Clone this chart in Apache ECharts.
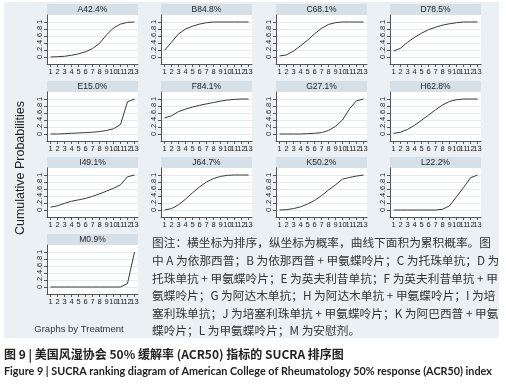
<!DOCTYPE html>
<html>
<head>
<meta charset="utf-8">
<script src="https://cdn.jsdelivr.net/npm/echarts@6/dist/echarts.min.js"></script>
<style>
  html, body { margin: 0; padding: 0; background: #fff; }
  #chart { width: 506px; height: 388px; }
</style>
</head>
<body>
<div id="chart"></div>
<script>
// 排序 1..13
const ranks = ["1", "2", "3", "4", "5", "6", "7", "8", "9", "10", "11", "12", "13"];
const treatments = ["A", "B", "C", "D", "E", "F", "G", "H", "I", "J", "K", "L", "M"];
const sucra = ["42.4%", "84.8%", "68.1%", "78.5%", "15.0%", "84.1%", "27.1%", "62.8%", "49.1%", "64.7%", "50.2%", "22.2%", "0.9%"];

// 累积概率
const cumA = [0, 0.01, 0.02, 0.05, 0.09, 0.15, 0.24, 0.39, 0.63, 0.83, 0.94, 0.99, 1];
const cumB = [0.19, 0.42, 0.66, 0.8, 0.88, 0.94, 0.98, 1, 1, 1, 1, 1, 1];
const cumC = [0.03, 0.06, 0.17, 0.32, 0.48, 0.66, 0.82, 0.93, 0.98, 1, 1, 1, 1];
const cumD = [0.17, 0.25, 0.42, 0.56, 0.68, 0.78, 0.85, 0.91, 0.95, 0.98, 1, 1, 1];
const cumE = [0, 0, 0.01, 0.02, 0.03, 0.04, 0.05, 0.07, 0.1, 0.15, 0.27, 0.92, 1];
const cumF = [0.46, 0.52, 0.64, 0.71, 0.77, 0.82, 0.86, 0.9, 0.94, 0.97, 0.99, 1, 1];
const cumG = [0, 0, 0, 0, 0.01, 0.02, 0.04, 0.1, 0.22, 0.4, 0.72, 0.95, 1];
const cumH = [0.02, 0.05, 0.13, 0.25, 0.39, 0.54, 0.69, 0.83, 0.93, 0.98, 1, 1, 1];
const cumI = [0.08, 0.12, 0.19, 0.25, 0.29, 0.33, 0.39, 0.46, 0.54, 0.62, 0.72, 0.95, 1];
const cumJ = [0, 0.04, 0.15, 0.31, 0.49, 0.66, 0.8, 0.9, 0.96, 0.99, 1, 1, 1];
const cumK = [0, 0.01, 0.04, 0.09, 0.17, 0.27, 0.41, 0.57, 0.72, 0.88, 0.93, 0.97, 1];
const cumL = [0, 0, 0, 0, 0, 0, 0, 0.02, 0.12, 0.38, 0.64, 0.92, 1];
const cumM = [0, 0, 0, 0, 0, 0, 0, 0, 0, 0, 0, 0.1, 1];
const curves = [cumA, cumB, cumC, cumD, cumE, cumF, cumG, cumH, cumI, cumJ, cumK, cumL, cumM];

const yTicks = [0, 0.2, 0.4, 0.6, 0.8, 1];

const noteLines = [
  "图注：横坐标为排序，纵坐标为概率，曲线下面积为累积概率。图",
  "中 A 为依那西普；B 为依那西普 + 甲氨蝶呤片；C 为托珠单抗；D 为",
  "托珠单抗 + 甲氨蝶呤片；E 为英夫利昔单抗；F 为英夫利昔单抗 + 甲",
  "氨蝶呤片；G 为阿达木单抗；H 为阿达木单抗 + 甲氨蝶呤片；I 为培",
  "塞利珠单抗；J 为培塞利珠单抗 + 甲氨蝶呤片；K 为阿巴西普 + 甲氨",
  "蝶呤片；L 为甲氨蝶呤片；M 为安慰剂。"
];
const captionCn = "图 9 | 美国风湿协会 50% 缓解率 (ACR50) 指标的 SUCRA 排序图";
const captionEn = "Figure 9 | SUCRA ranking diagram of American College of Rheumatology 50% response (ACR50) index";

// 面板布局
const colLeft = [47, 161, 276, 390];
const rowTop = [4, 81, 157, 234];
const panelW = 91, headH = 11, plotH = 49;
const axisFont = "Liberation Sans";

const chart = echarts.init(document.getElementById("chart"));

const grids = [], xAxes = [], yAxes = [], series = [], graphics = [];

// 外框背景
graphics.push({
  type: "rect", z: -10, silent: true,
  shape: { x: 4, y: 2, width: 495, height: 336 },
  style: { fill: "#eaf0f4" }
});

treatments.forEach((t, i) => {
  const col = i % 4, row = Math.floor(i / 4);
  const left = colLeft[col], top = rowTop[row];

  grids.push({
    left: left, top: top + headH, width: panelW, height: plotH,
    show: true, backgroundColor: "#fff", borderWidth: 0
  });

  xAxes.push({
    type: "category", gridIndex: i, data: ranks, boundaryGap: true,
    axisLine: { show: true, onZero: false, lineStyle: { color: "#555", width: 1 } },
    axisTick: { show: true, inside: false, length: 3, alignWithLabel: true, interval: 0, lineStyle: { color: "#555" } },
    axisLabel: { interval: 0, fontSize: 7.5, margin: 4, color: "#222", fontFamily: axisFont },
    splitLine: { show: false }
  });

  yAxes.push({
    type: "value", gridIndex: i, min: -0.2, max: 1.2,
    axisLine: { show: true, onZero: false, lineStyle: { color: "#555", width: 1 } },
    axisTick: { show: true, inside: false, length: 3, customValues: yTicks, lineStyle: { color: "#555" } },
    axisLabel: {
      customValues: yTicks, rotate: 90, fontSize: 7.5, margin: 3, color: "#222", fontFamily: axisFont,
      formatter: (v) => (v === 0 ? "0" : v === 1 ? "1" : "." + Math.round(v * 10))
    },
    splitLine: { show: true, lineStyle: { color: "#e4eaee", width: 1 } }
  });

  series.push({
    type: "line", xAxisIndex: i, yAxisIndex: i,
    data: curves[i],
    showSymbol: false, silent: true,
    lineStyle: { color: "#3a3a3a", width: 1 }
  });

  // 小标题条
  graphics.push({
    type: "rect", silent: true,
    shape: { x: left, y: top, width: panelW, height: headH },
    style: { fill: "#d5e0e8" }
  });
  graphics.push({
    type: "text", silent: true,
    x: left + panelW / 2, y: top + headH / 2 + 0.5,
    style: {
      text: t + sucra[i], align: "center", verticalAlign: "middle",
      fontSize: 8.5, fontFamily: axisFont, fill: "#222"
    }
  });
});

// 纵轴标题
graphics.push({
  type: "text", silent: true, x: 21, y: 168, rotation: Math.PI / 2,
  style: {
    text: "Cumulative Probabilities", align: "center", verticalAlign: "middle",
    fontSize: 12.5, fontFamily: axisFont, fill: "#222"
  }
});
graphics.push({
  type: "text", silent: true, x: 79, y: 329,
  style: {
    text: "Graphs by Treatment", align: "center", verticalAlign: "middle",
    fontSize: 9.5, fontFamily: axisFont, fill: "#333"
  }
});

// 图注
noteLines.forEach((line, k) => {
  graphics.push({
    type: "text", silent: true, x: 152, y: 243 + k * 17.6,
    style: {
      text: line, align: "left", verticalAlign: "middle",
      fontSize: 11.7, fontFamily: "Noto Sans CJK SC", fill: "#333"
    }
  });
});

graphics.push({
  type: "text", silent: true, x: 4, y: 354,
  style: {
    text: captionCn, align: "left", verticalAlign: "middle",
    fontSize: 12, fontWeight: "bold", fontFamily: "Noto Sans CJK SC", fill: "#222"
  }
});
graphics.push({
  type: "text", silent: true, x: 4, y: 372,
  style: {
    text: captionEn, align: "left", verticalAlign: "middle",
    fontSize: 10.8, fontWeight: "bold", fontFamily: "Lato", fill: "#222"
  }
});

chart.setOption({
  animation: false,
  grid: grids,
  xAxis: xAxes,
  yAxis: yAxes,
  series: series,
  graphic: graphics
});
</script>
</body>
</html>
